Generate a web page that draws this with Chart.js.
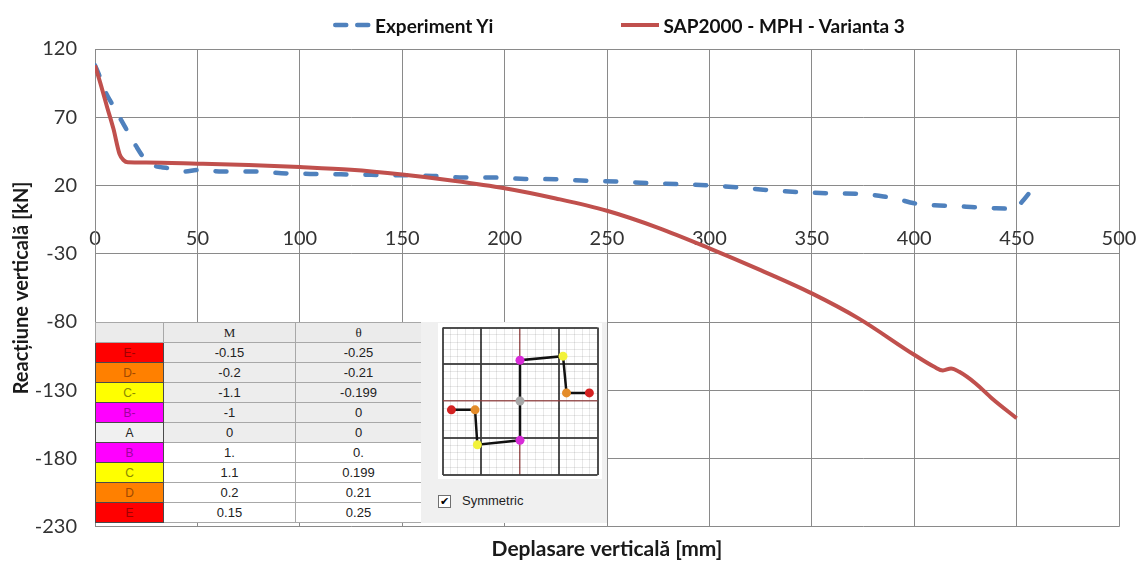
<!DOCTYPE html>
<html>
<head>
<meta charset="utf-8">
<title>Reacțiune verticală - deplasare verticală</title>
<script src="https://cdn.jsdelivr.net/npm/chart.js@4.4.1/dist/chart.umd.min.js"></script>
<style>
    html, body { margin: 0; padding: 0; background: #fff; }
    #wrap { position: relative; width: 1136px; height: 563px; overflow: hidden; }
    #mainChart { position: absolute; left: 0; top: 0; }

    #legend { position: absolute; top: 14px; left: 333px; display: flex; gap: 128px; }
    .legend-item { display: flex; align-items: center; height: 22px; font: bold 19px Lato, sans-serif; color: #111; white-space: nowrap; }
    .legend-item svg { margin-right: 4px; }

    #inset { position: absolute; left: 95px; top: 322px; width: 512px; height: 201px; }
    #hingeTable { position: absolute; left: 0; top: 0; width: 326px; border-collapse: collapse; table-layout: fixed;
                  font: 13px "Liberation Sans", Arial, sans-serif; color: #222; background: #fff; }
    #hingeTable td, #hingeTable th { height: 19px; padding: 0; text-align: center; border: 1px solid #a8a8a8; font-weight: normal; }
    #hingeTable th { background: #ebebeb; font: 13px "Liberation Serif", serif; }
    #hingeTable td.pt { border: 1px solid #4a4a4a; font-size: 12px; }
    #hingeTable tr.neg td:not(.pt) { background: #ededed; }

    #hingePanel { position: absolute; left: 326px; top: 0; width: 186px; height: 201px; background: #f0f0f0; }
    #miniChart { position: absolute; left: 17px; top: 1px; background: #fff; }
    #symBox { position: absolute; left: 17px; top: 173px; width: 11px; height: 11px; border: 1px solid #707070; background: #fff;
              font: bold 11px "DejaVu Sans", sans-serif; line-height: 11px; text-align: center; color: #000; }
    #symLabel { position: absolute; left: 41px; top: 171px; font: 13px "Liberation Sans", Arial, sans-serif; color: #1e1e1e; }
</style>
</head>
<body>
<div id="wrap">
    <canvas id="mainChart" width="1136" height="563"></canvas>
    <div id="legend"></div>
    <div id="inset">
        <table id="hingeTable"></table>
        <div id="hingePanel">
            <canvas id="miniChart" width="164" height="156"></canvas>
            <div id="symBox">✔</div>
            <div id="symLabel">Symmetric</div>
        </div>
    </div>
</div>
<script>
// Experiment Yi (dashed blue)
const expX = [0, 2, 5, 9, 15, 20, 24, 28, 32, 37, 44, 50, 62, 80, 91, 105, 120, 135, 150, 165,
              180, 195, 210, 225, 240, 255, 270, 285, 300, 315, 330, 345, 360, 375, 385, 392, 400, 410, 420, 430,
              440, 449, 452, 458];
const expY = [108, 101, 89, 78, 62, 49, 40, 35, 33.5, 32.5, 30.3, 31.3, 30.3, 30.2, 29, 28.5, 28.2, 27.8, 27.5, 27,
              25.8, 25.8, 24.8, 24.6, 23.4, 22.9, 21.7, 21, 20, 18.5, 16.5, 15, 14.3, 13.8, 12, 10, 7, 5.5, 5, 4,
              3.3, 3, 7, 18];

// SAP2000 - MPH - Varianta 3 (solid red)
const sapX = [0, 3, 6, 9, 12, 14, 16, 25, 50, 75, 100, 125, 150, 175, 200, 225, 250, 275, 300, 325,
              350, 373, 400, 410, 414, 418, 422, 430, 438, 450];
const sapY = [108, 93, 77, 61.5, 43, 38.5, 37, 36.8, 36, 35, 33.5, 31.5, 28, 23.5, 18, 10.5, 1.5, -11, -26, -42,
              -59, -77.5, -104, -113, -115.5, -114, -116.5, -125, -136, -150.5];

const seriesNames = ["Experiment Yi", "SAP2000 - MPH - Varianta 3"];
const xTicks = [0, 50, 100, 150, 200, 250, 300, 350, 400, 450, 500];
const yTicks = [-230, -180, -130, -80, -30, 20, 70, 120];

// hinge definition table (M, θ) and its sketch
const hingePoints = ["E-", "D-", "C-", "B-", "A", "B", "C", "D", "E"];
const momentVals = ["-0.15", "-0.2", "-1.1", "-1", "0", "1.", "1.1", "0.2", "0.15"];
const rotationVals = ["-0.25", "-0.21", "-0.199", "0", "0", "0.", "0.199", "0.21", "0.25"];
const hingeX = [-1.77, -1.16, -1.10, 0, 0, 0, 1.11, 1.20, 1.79];
const hingeY = [-0.24, -0.24, -1.19, -1.07, 0, 1.11, 1.22, 0.22, 0.22];

document.addEventListener("DOMContentLoaded", () => {
    const cellColors = { E: "#ff0000", D: "#ff8000", C: "#ffff00", B: "#ff00ff", A: "#f0f0f0" };
    const cellText = { E: "#a00000", D: "#a04800", C: "#8a8a00", B: "#a000a0", A: "#222222" };
    const dotColors = { E: "#d42222", D: "#e48c2a", C: "#f2f23a", B: "#d82ad8", A: "#a8a8a8" };

    const tickFont = { family: "Lato, sans-serif", size: 20 };
    const gridColor = "#8a8a8a";

    const mainChart = new Chart(document.getElementById("mainChart"), {
        type: "line",
        data: {
            datasets: [
                {
                    label: seriesNames[0],
                    data: expX.map((x, i) => ({ x, y: expY[i] })),
                    borderColor: "#4f81bd",
                    borderWidth: 4.5,
                    borderDash: [11, 19],
                    borderCapStyle: "round",
                    cubicInterpolationMode: "monotone",
                    pointRadius: 0,
                    order: 2
                },
                {
                    label: seriesNames[1],
                    data: sapX.map((x, i) => ({ x, y: sapY[i] })),
                    borderColor: "#c0504d",
                    borderWidth: 4,
                    cubicInterpolationMode: "monotone",
                    pointRadius: 0,
                    order: 1
                }
            ]
        },
        options: {
            responsive: false,
            animation: false,
            events: [],
            layout: { padding: { left: 0, right: 17, top: 49, bottom: 0 } },
            plugins: {
                legend: { display: false },
                tooltip: { enabled: false },
                title: {
                    display: true,
                    position: "bottom",
                    fullSize: false,
                    text: "Deplasare verticală [mm]",
                    color: "#1a1a1a",
                    font: { family: "Lato, sans-serif", size: 21, weight: "bold" },
                    padding: { top: 10, bottom: 1 }
                }
            },
            scales: {
                x: {
                    type: "linear",
                    min: 0,
                    max: 500,
                    position: { y: 0 },
                    afterBuildTicks: (scale) => { scale.ticks = xTicks.map(v => ({ value: v })); },
                    // labels at the ends may overhang; keep the plot edges where they are
                    afterFit: (scale) => { scale.paddingLeft = 0; scale.paddingRight = 0; },
                    grid: { color: gridColor, lineWidth: 1, drawTicks: false },
                    border: { display: false },
                    ticks: { font: tickFont, color: "#333333", padding: 14, maxRotation: 0 }
                },
                y: {
                    type: "linear",
                    min: -230,
                    max: 120,
                    afterBuildTicks: (scale) => { scale.ticks = yTicks.map(v => ({ value: v })); },
                    afterFit: (scale) => { scale.width = 95; },
                    grid: { color: gridColor, lineWidth: 1, drawTicks: false },
                    border: { color: gridColor },
                    ticks: { font: tickFont, color: "#333333", padding: 18 },
                    title: {
                        display: true,
                        text: "Reacțiune verticală [kN]",
                        color: "#1a1a1a",
                        font: { family: "Lato, sans-serif", size: 20, weight: "bold" },
                        padding: { top: 10, bottom: 0 }
                    }
                }
            }
        }
    });

    // Legend built from the chart's datasets
    const legend = document.getElementById("legend");
    const svgNS = "http://www.w3.org/2000/svg";
    mainChart.data.datasets.forEach((ds) => {
        const item = document.createElement("div");
        item.className = "legend-item";
        const svg = document.createElementNS(svgNS, "svg");
        svg.setAttribute("width", "38");
        svg.setAttribute("height", "8");
        const line = document.createElementNS(svgNS, "line");
        line.setAttribute("y1", "4");
        line.setAttribute("y2", "4");
        line.setAttribute("stroke", ds.borderColor);
        line.setAttribute("stroke-width", ds.borderWidth);
        if (ds.borderDash) {
            line.setAttribute("x1", "2.25");
            line.setAttribute("x2", "35.75");
            line.setAttribute("stroke-linecap", "round");
            line.setAttribute("stroke-dasharray", "11 11");
        } else {
            line.setAttribute("x1", "0");
            line.setAttribute("x2", "38");
        }
        svg.appendChild(line);
        item.appendChild(svg);
        item.appendChild(document.createTextNode(ds.label));
        legend.appendChild(item);
    });

    // Hinge property table
    const table = document.getElementById("hingeTable");
    const colgroup = document.createElement("colgroup");
    [68, 132, 126].forEach(w => {
        const col = document.createElement("col");
        col.style.width = w + "px";
        colgroup.appendChild(col);
    });
    table.appendChild(colgroup);
    const head = table.insertRow();
    ["", "M", "θ"].forEach(t => {
        const th = document.createElement("th");
        th.textContent = t;
        head.appendChild(th);
    });
    hingePoints.forEach((p, i) => {
        const row = table.insertRow();
        if (i < 5) row.className = "neg";
        const key = p[0];
        const ptCell = row.insertCell(0);
        ptCell.className = "pt";
        ptCell.textContent = p;
        ptCell.style.background = cellColors[key];
        ptCell.style.color = cellText[key];
        row.insertCell(1).textContent = momentVals[i];
        row.insertCell(2).textContent = rotationVals[i];
    });

    // Hinge sketch: major grid every unit, fine grid every 0.2
    const isMajor = (v) => Math.abs(v - Math.round(v)) < 1e-6;
    const sketchGrid = {
        color: (c) => {
            const v = c.tick ? c.tick.value : 0;
            if (Math.abs(v) < 1e-6) return "rgba(140, 60, 60, 0.85)";
            return isMajor(v) ? "rgba(60, 60, 60, 0.9)" : "rgba(0, 0, 0, 0.09)";
        },
        lineWidth: (c) => {
            const v = c.tick ? c.tick.value : 0;
            if (Math.abs(v) < 1e-6) return 1.5;
            return isMajor(v) ? 2 : 1;
        },
        drawTicks: false
    };
    new Chart(document.getElementById("miniChart"), {
        type: "scatter",
        data: {
            datasets: [{
                data: hingeX.map((x, i) => ({ x, y: hingeY[i] })),
                showLine: true,
                borderColor: "#111111",
                borderWidth: 2.5,
                pointRadius: 4.5,
                pointBorderWidth: 0,
                pointBackgroundColor: hingePoints.map(p => dotColors[p[0]])
            }]
        },
        options: {
            responsive: false,
            animation: false,
            events: [],
            layout: { padding: 1 },
            plugins: { legend: { display: false }, tooltip: { enabled: false } },
            scales: {
                x: { type: "linear", min: -2, max: 2, ticks: { display: false, stepSize: 0.2 }, grid: sketchGrid, border: { display: false } },
                y: { type: "linear", min: -2, max: 2, ticks: { display: false, stepSize: 0.2 }, grid: sketchGrid, border: { display: false } }
            }
        }
    });
});
</script>
</body>
</html>
